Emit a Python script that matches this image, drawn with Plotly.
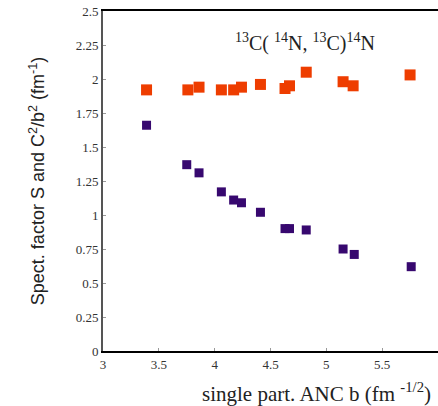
import plotly.graph_objects as go

anc_s = [3.39, 3.76, 3.86, 4.06, 4.17, 4.24, 4.41, 4.63, 4.67, 4.82, 5.15, 5.24, 5.75]
c2_vals = [1.92, 1.92, 1.94, 1.92, 1.92, 1.94, 1.96, 1.93, 1.95, 2.05, 1.98, 1.95, 2.03]

anc_sf = [3.39, 3.75, 3.86, 4.06, 4.17, 4.24, 4.41, 4.63, 4.67, 4.82, 5.15, 5.25, 5.76]
sf_vals = [1.66, 1.37, 1.31, 1.17, 1.11, 1.09, 1.02, 0.90, 0.90, 0.89, 0.75, 0.71, 0.62]

x_ticks = [3, 3.5, 4, 4.5, 5, 5.5, 6]
y_ticks = [0, 0.25, 0.5, 0.75, 1, 1.25, 1.5, 1.75, 2, 2.25, 2.5]

fig = go.Figure()
fig.add_trace(go.Scatter(x=anc_s, y=c2_vals, mode="markers",
                         marker=dict(symbol="square", size=11, color="#ee3d00"),
                         showlegend=False))
fig.add_trace(go.Scatter(x=anc_sf, y=sf_vals, mode="markers",
                         marker=dict(symbol="square", size=9, color="#37086f"),
                         showlegend=False))

serif = "Liberation Serif"
fig.update_layout(
    width=438, height=406,
    margin=dict(l=103, r=0, t=11, b=55),
    paper_bgcolor="white", plot_bgcolor="white",
    xaxis=dict(range=[3, 6], tickvals=x_ticks, ticktext=[str(v) for v in x_ticks],
               showgrid=False, zeroline=False, showline=True, linecolor="black",
               linewidth=2, mirror=True, ticks="inside", ticklen=3, tickcolor="#999",
               tickfont=dict(family=serif, size=13, color="#333")),
    yaxis=dict(range=[0, 2.5], tickvals=y_ticks,
               ticktext=["0", "0.25", "0.5", "0.75", "1", "1.25", "1.5", "1.75", "2", "2.25", "2.5"],
               showgrid=False, zeroline=False, showline=True, linecolor="#555",
               linewidth=2, mirror=False, ticks="inside", ticklen=3, tickcolor="#999",
               tickfont=dict(family=serif, size=13, color="#333"),
               title=dict(text="Spect. factor S and C<sup>2</sup>/b<sup>2</sup> (fm<sup>-1</sup>)",
                          font=dict(family="Liberation Sans", size=18, color="#222"), standoff=26)),
    annotations=[
        dict(text="<sup>13</sup>C( <sup>14</sup>N, <sup>13</sup>C)<sup>14</sup>N",
             x=4.81, y=2.27, xref="x", yref="y", showarrow=False,
             font=dict(family=serif, size=20, color="#222")),
        dict(text="single part. ANC b (fm <sup>-1/2</sup>)",
             x=316, y=392, xref="paper", yref="paper", showarrow=False,
             font=dict(family=serif, size=21, color="#222")),
    ],
)
fig.layout.annotations[1].update(x=(316 - 103) / 335, y=-(392 - 351) / 340, xanchor="center", yanchor="middle")
fig.write_html("out.html")
